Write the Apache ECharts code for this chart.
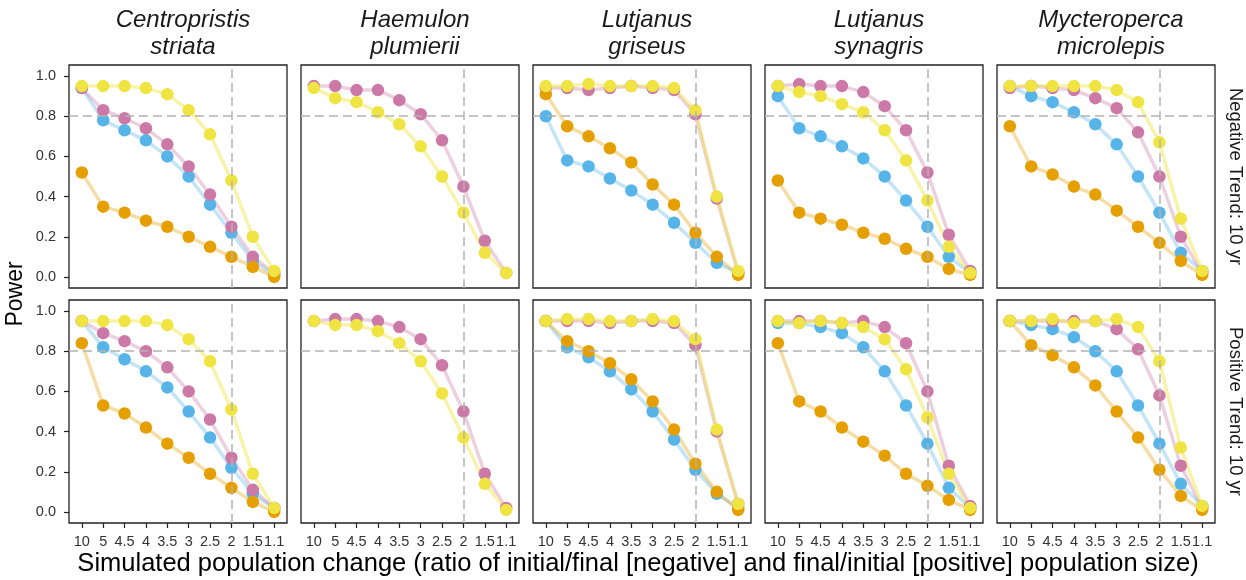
<!DOCTYPE html>
<html>
<head>
<meta charset="utf-8">
<script src="https://cdn.jsdelivr.net/npm/echarts@6/dist/echarts.min.js"></script>
<style>html,body{margin:0;padding:0;background:#fff;}#chart{width:1246px;height:580px;}</style>
</head>
<body>
<div id="chart"></div>
<script>
// ---------- DATA ----------
const categories = ['10','5','4.5','4','3.5','3','2.5','2','1.5','1.1'];
const species = ['Centropristis\nstriata','Haemulon\nplumierii','Lutjanus\ngriseus','Lutjanus\nsynagris','Mycteroperca\nmicrolepis'];
const trends = ['Negative Trend: 10 yr','Positive Trend: 10 yr'];
const yTicks = [0, 0.2, 0.4, 0.6, 0.8, 1.0];
const refY = 0.8;       // horizontal reference (power)
const refXIndex = 7;    // category "2"

// one entry per species (null = not shown)
const negPink = [
  [0.94,0.83,0.79,0.74,0.66,0.55,0.41,0.25,0.10,0.02],
  [0.95,0.95,0.93,0.93,0.88,0.81,0.68,0.45,0.18,0.02],
  [0.94,0.94,0.93,0.94,0.95,0.94,0.93,0.81,0.39,0.02],
  [0.95,0.96,0.95,0.95,0.92,0.85,0.73,0.52,0.21,0.03],
  [0.94,0.95,0.94,0.93,0.89,0.84,0.72,0.50,0.20,0.02]
];
const negYellow = [
  [0.95,0.95,0.95,0.94,0.91,0.83,0.71,0.48,0.20,0.03],
  [0.94,0.89,0.87,0.82,0.76,0.65,0.50,0.32,0.12,0.02],
  [0.95,0.95,0.96,0.95,0.95,0.95,0.94,0.83,0.40,0.03],
  [0.95,0.92,0.90,0.86,0.82,0.73,0.58,0.38,0.15,0.02],
  [0.95,0.95,0.95,0.95,0.95,0.93,0.87,0.67,0.29,0.03]
];
const negBlue = [
  [0.94,0.78,0.73,0.68,0.60,0.50,0.36,0.22,0.08,0.01],
  null,
  [0.80,0.58,0.55,0.49,0.43,0.36,0.27,0.17,0.07,0.02],
  [0.90,0.74,0.70,0.65,0.59,0.50,0.38,0.25,0.10,0.02],
  [0.95,0.90,0.87,0.82,0.76,0.66,0.50,0.32,0.12,0.03]
];
const negOrange = [
  [0.52,0.35,0.32,0.28,0.25,0.20,0.15,0.10,0.05,0.00],
  null,
  [0.91,0.75,0.70,0.64,0.57,0.46,0.36,0.22,0.10,0.01],
  [0.48,0.32,0.29,0.26,0.22,0.19,0.14,0.10,0.04,0.01],
  [0.75,0.55,0.51,0.45,0.41,0.33,0.25,0.17,0.08,0.01]
];
const posPink = [
  [0.95,0.89,0.85,0.80,0.72,0.60,0.46,0.27,0.11,0.02],
  [0.95,0.96,0.96,0.95,0.92,0.86,0.73,0.50,0.19,0.02],
  [0.95,0.95,0.95,0.94,0.95,0.95,0.94,0.83,0.40,0.04],
  [0.95,0.95,0.95,0.94,0.95,0.92,0.84,0.60,0.23,0.03],
  [0.95,0.95,0.95,0.95,0.95,0.91,0.81,0.58,0.23,0.02]
];
const posYellow = [
  [0.95,0.95,0.95,0.95,0.93,0.86,0.75,0.51,0.19,0.02],
  [0.95,0.93,0.93,0.90,0.84,0.75,0.59,0.37,0.14,0.01],
  [0.95,0.96,0.96,0.95,0.95,0.96,0.95,0.86,0.41,0.04],
  [0.95,0.94,0.95,0.94,0.92,0.86,0.71,0.47,0.19,0.02],
  [0.95,0.95,0.96,0.94,0.95,0.96,0.92,0.75,0.32,0.03]
];
const posBlue = [
  [0.95,0.82,0.76,0.70,0.62,0.50,0.37,0.22,0.09,0.02],
  null,
  [0.95,0.82,0.77,0.70,0.61,0.50,0.36,0.21,0.09,0.02],
  [0.94,0.94,0.92,0.89,0.82,0.70,0.53,0.34,0.12,0.02],
  [0.95,0.93,0.91,0.87,0.80,0.70,0.53,0.34,0.14,0.03]
];
const posOrange = [
  [0.84,0.53,0.49,0.42,0.34,0.27,0.19,0.12,0.05,0.00],
  null,
  [0.95,0.85,0.80,0.74,0.66,0.55,0.41,0.24,0.10,0.01],
  [0.84,0.55,0.50,0.42,0.35,0.28,0.19,0.13,0.06,0.01],
  [0.95,0.83,0.78,0.72,0.63,0.50,0.37,0.21,0.08,0.01]
];

// ---------- STYLE ----------
const FONT = 'Liberation Sans, Arial, Helvetica, sans-serif';
const seriesDefs = [ // draw order: first = bottom
  {name:'blue',   color:'#56B4E9', line:'rgba(86,180,233,0.35)',  neg:negBlue,   pos:posBlue},
  {name:'pink',   color:'#CC79A7', line:'rgba(204,121,167,0.35)', neg:negPink,   pos:posPink},
  {name:'orange', color:'#E69F00', line:'rgba(230,159,0,0.35)',   neg:negOrange, pos:posOrange},
  {name:'yellow', color:'#F0E442', line:'rgba(240,228,66,0.45)',  neg:negYellow, pos:posYellow}
];
const panelLefts = [69, 301, 533, 765, 997];
const panelW = 218;
const rowTops = [65, 300];
const panelH = 223;

const grids = [], xAxes = [], yAxes = [], series = [], titles = [];
let gi = 0;
for (let r = 0; r < 2; r++) {
  for (let c = 0; c < 5; c++) {
    grids.push({left: panelLefts[c], top: rowTops[r], width: panelW, height: panelH,
      show: true, borderColor: '#222', borderWidth: 1.3, backgroundColor: 'transparent', containLabel: false});
    const bottom = r === 1, leftCol = c === 0;
    xAxes.push({type:'value', gridIndex: gi, min:-0.6, max:9.6,
      axisLine:{show:false, onZero:false},
      axisTick:{show:bottom, customValues:categories.map((_,i)=>i), length:5, lineStyle:{color:'#222', width:1.2}},
      axisLabel:{show:bottom, customValues:categories.map((_,i)=>i), formatter:v=>categories[Math.round(v)],
        fontSize:14.5, color:'#333', fontFamily:FONT, margin:11},
      splitLine:{show:false}});
    yAxes.push({type:'value', gridIndex: gi, min:-0.055, max:1.055,
      axisLine:{show:false, onZero:false},
      axisTick:{show:leftCol, customValues:yTicks, length:5, lineStyle:{color:'#222', width:1.2}},
      axisLabel:{show:leftCol, customValues:yTicks, formatter:v=>v.toFixed(1),
        fontSize:14.5, color:'#333', fontFamily:FONT, margin:13},
      splitLine:{show:false}});
    const present = seriesDefs.filter(d => (r === 0 ? d.neg : d.pos)[c]);
    // lines first
    present.forEach(d => {
      const vals = (r === 0 ? d.neg : d.pos)[c];
      series.push({type:'line', name:d.name, xAxisIndex:gi, yAxisIndex:gi, silent:true,
        data: vals.map((v,i)=>[i,v]), showSymbol:false, symbol:'none',
        lineStyle:{color:d.line, width:3.5}, z:2});
    });
    // points
    present.forEach((d, k) => {
      const vals = (r === 0 ? d.neg : d.pos)[c];
      const s = {type:'scatter', name:d.name, xAxisIndex:gi, yAxisIndex:gi, silent:true,
        data: vals.map((v,i)=>[i,v]), symbolSize:12.5, itemStyle:{color:d.color, opacity:1}, z:3};
      if (k === present.length - 1) {
        s.markLine = {silent:true, symbol:['none','none'], label:{show:false},
          lineStyle:{color:'#b3b3b3', type:[9,5], width:1.5},
          data:[{yAxis:refY},{xAxis:refXIndex}]};
      }
      series.push(s);
    });
    gi++;
  }
}
species.forEach((s, c) => {
  titles.push({text:s, left: panelLefts[c] + panelW/2, top: 2, textAlign:'center',
    textStyle:{fontSize:24, fontStyle:'italic', fontWeight:'normal', color:'#1a1a1a', fontFamily:FONT, lineHeight:27}});
});

const graphics = [];
trends.forEach((t, r) => {
  graphics.push({type:'text', x: 1235, y: rowTops[r] + panelH/2, rotation: -Math.PI/2,
    style:{text:t, fontSize:18.5, fill:'#1a1a1a', fontFamily:FONT, align:'center', verticalAlign:'middle'}});
});
graphics.push({type:'text', x: 16, y: 294, rotation: Math.PI/2,
  style:{text:'Power', fontSize:23, fill:'#000', fontFamily:FONT, align:'center', verticalAlign:'middle'}});
graphics.push({type:'text', x: 638, y: 564,
  style:{text:'Simulated population change (ratio of initial/final [negative] and final/initial [positive] population size)',
    fontSize:25.5, fill:'#000', fontFamily:FONT, align:'center', verticalAlign:'middle'}});

const chart = echarts.init(document.getElementById('chart'), null, {renderer:'canvas'});
chart.setOption({
  animation:false,
  backgroundColor:'#fff',
  title: titles,
  grid: grids,
  xAxis: xAxes,
  yAxis: yAxes,
  series: series,
  graphic: graphics
});
</script>
</body>
</html>
